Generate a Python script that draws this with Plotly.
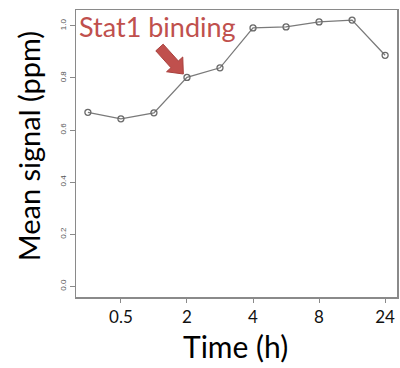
import plotly.graph_objects as go
import math

time_labels = ["0.25", "0.5", "1", "2", "3", "4", "6", "8", "12", "24"]
mean_signal = [0.668, 0.643, 0.666, 0.802, 0.839, 0.992, 0.996, 1.015, 1.022, 0.887]
tick_labels = ["0.5", "2", "4", "8", "24"]
y_ticks = [0.0, 0.2, 0.4, 0.6, 0.8, 1.0]

W, H = 400, 368
# plot box in pixels: left 76, right 399, top 10, bottom 297
L, T = 76, 10
R = W - 399
B = H - 297
PW, PH = W - L - R, H - T - B

def px(x):
    return (x - L) / PW

def py(y):
    return (H - B - y) / PH

xs = list(range(len(time_labels)))
tickvals = [time_labels.index(t) for t in tick_labels]

fig = go.Figure()
fig.add_trace(go.Scatter(
    x=xs, y=mean_signal, mode="lines+markers",
    line=dict(color="#7a7a7a", width=1.3),
    marker=dict(symbol="circle-open", size=6, color="#6a6a6a", line=dict(width=1.3)),
    showlegend=False, hoverinfo="skip",
))

# block arrow (pixel geometry)
tip = (184.0, 74.0)
tail = (160.0, 47.5)
dx, dy = tip[0] - tail[0], tip[1] - tail[1]
ln = math.hypot(dx, dy)
d = (dx / ln, dy / ln)
n = (-d[1], d[0])
head_len, shaft_hw, head_hw = 13, 5, 11
Bc = (tip[0] - head_len * d[0], tip[1] - head_len * d[1])
pts = [
    (tail[0] - shaft_hw * n[0], tail[1] - shaft_hw * n[1]),
    (Bc[0] - shaft_hw * n[0], Bc[1] - shaft_hw * n[1]),
    (Bc[0] - head_hw * n[0], Bc[1] - head_hw * n[1]),
    tip,
    (Bc[0] + head_hw * n[0], Bc[1] + head_hw * n[1]),
    (Bc[0] + shaft_hw * n[0], Bc[1] + shaft_hw * n[1]),
    (tail[0] + shaft_hw * n[0], tail[1] + shaft_hw * n[1]),
]
path = "M " + " L ".join(f"{px(a):.5f},{py(b):.5f}" for a, b in pts) + " Z"
fig.add_shape(type="path", path=path, xref="paper", yref="paper",
              fillcolor="#C0504D", line=dict(color="#A8403D", width=1))

fig.add_annotation(text="Stat1 binding", xref="paper", yref="paper",
                   x=px(77), y=py(27), xanchor="left", yanchor="middle",
                   showarrow=False, font=dict(family="Lato", size=27, color="#C0504D"))
fig.add_annotation(text="Mean signal (ppm)", xref="paper", yref="paper",
                   x=px(28), y=py(146), xanchor="center", yanchor="middle",
                   textangle=-90, showarrow=False,
                   font=dict(family="Lato", size=29, color="#000"))
fig.add_annotation(text="Time (h)", xref="paper", yref="paper",
                   x=px(236), y=py(346), xanchor="center", yanchor="middle",
                   showarrow=False, font=dict(family="Lato", size=30, color="#000"))

fig.update_xaxes(range=[-0.36, 9.36], tickmode="array", tickvals=tickvals, ticktext=tick_labels,
                 showline=True, linecolor="#8a8a8a", linewidth=1.5, mirror=True,
                 ticks="outside", ticklen=4, tickcolor="#8a8a8a", showgrid=False, zeroline=False,
                 tickfont=dict(family="Lato", size=17, color="#111"))
fig.update_yaxes(range=[-0.0408, 1.0608], tickmode="array", tickvals=y_ticks,
                 ticktext=[f"{v:.1f}" for v in y_ticks], tickangle=-90,
                 showline=True, linecolor="#8a8a8a", linewidth=1.5, mirror=True,
                 ticks="outside", ticklen=5, tickcolor="#8a8a8a", showgrid=False, zeroline=False,
                 tickfont=dict(family="Arial", size=8, color="#555"))
fig.update_layout(width=W, height=H, margin=dict(l=L, r=R, t=T, b=B),
                  plot_bgcolor="white", paper_bgcolor="white")
fig.write_html("out.html", config={"displayModeBar": False, "staticPlot": True},
               post_script="document.body.style.margin='0';document.body.style.overflow='hidden';")
